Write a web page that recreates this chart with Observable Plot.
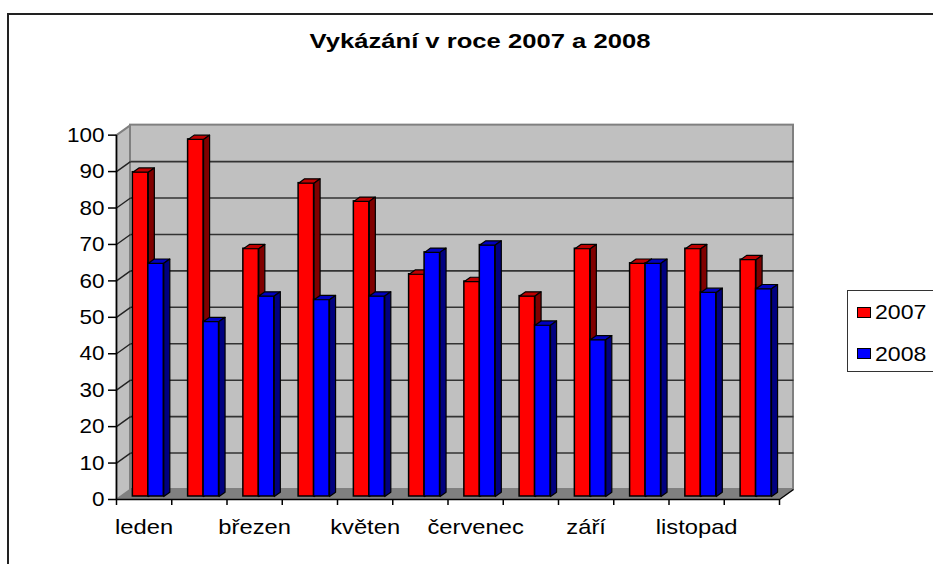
<!DOCTYPE html>
<html>
<head>
<meta charset="utf-8">
<script src="https://cdn.jsdelivr.net/npm/d3@7"></script>
<script src="https://cdn.jsdelivr.net/npm/@observablehq/plot@0.6"></script>
<style>
  html, body { margin: 0; padding: 0; background: #fff; overflow: hidden; }
  #wrap { position: relative; width: 933px; height: 564px; overflow: hidden; font-family: "Liberation Sans", Arial, sans-serif; }
  #frame { position: absolute; left: 7px; top: 13px; width: 1000px; height: 700px; border: 2px solid #222; box-sizing: border-box; }
  #title { position: absolute; left: 280px; top: 29px; width: 400px; text-align: center; font-weight: bold; font-size: 21px; line-height: 24px; color: #000; transform: scaleX(1.22); transform-origin: 50% 50%; }
  #chart { position: absolute; left: 0; top: 0; }
  #legend { position: absolute; left: 847px; top: 290px; width: 120px; height: 82px; border: 1.5px solid #333; box-sizing: border-box; background: #fff; }
  .sw { position: absolute; width: 12px; height: 9px; border: 1px solid #000; }
  .lt { position: absolute; font-size: 21px; line-height: 24px; color: #000; transform: scaleX(1.1); transform-origin: 0 50%; white-space: nowrap; }
</style>
</head>
<body>
<div id="wrap">
  <div id="frame"></div>
  <div id="chart"></div>
  <div id="title"></div>
  <div id="legend"></div>
</div>
<script>
// ---- data ----
const titleText = "Vykázání v roce 2007 a 2008";
const months = ["leden","únor","březen","duben","květen","červen","červenec","srpen","září","říjen","listopad","prosinec"];
const series = ["2007","2008"];
const v2007 = [89, 98, 68, 86, 81, 61, 59, 55, 68, 64, 68, 65];
const v2008 = [64, 48, 55, 54, 55, 67, 69, 47, 43, 64, 56, 57];
const yTicks = [0, 10, 20, 30, 40, 50, 60, 70, 80, 90, 100];
const shownLabels = ["leden","březen","květen","červenec","září","listopad"];

// ---- style / geometry (pseudo-3D) ----
const frontColors = ["#ff0000", "#0000ff"];
const topColors = ["#c00000", "#0000c0"];
const sideColors = ["#800000", "#000080"];
const DX = 0.2534, DY = 2.744;     // depth of the chart box in data units
const barStart = 0.30, barDepth = 0.43; // fractions of depth
const barOffset = 0.22, barWidth = 0.28; // in category units
const N = months.length;

const values = [v2007, v2008];
const bars = [];
months.forEach((m, i) => {
  values.forEach((vals, s) => {
    const v = vals[i];
    const x1 = i + barOffset + s * barWidth + barStart * DX;
    const x2 = x1 + barWidth;
    const y0 = barStart * DY;
    const y1 = v + barStart * DY;
    bars.push({i, s, v, x1, x2, y0, y1});
  });
});
const ddx = barDepth * DX, ddy = barDepth * DY;
function poly(pts, id, s) { return pts.map(([x, y]) => ({x, y, id, s})); }
const tops = bars.flatMap((b, k) => poly([[b.x1,b.y1],[b.x2,b.y1],[b.x2+ddx,b.y1+ddy],[b.x1+ddx,b.y1+ddy],[b.x1,b.y1]], "t"+k, b.s));
const sides = bars.flatMap((b, k) => poly([[b.x2,b.y0],[b.x2+ddx,b.y0+ddy],[b.x2+ddx,b.y1+ddy],[b.x2,b.y1],[b.x2,b.y0]], "s"+k, b.s));

const floor = poly([[0,0],[N,0],[N+DX,DY],[DX,DY],[0,0]], "floor", 0);
const leftWall = poly([[0,0],[DX,DY],[DX,100+DY],[0,100],[0,0]], "lw", 0);
const backWall = [{x1: DX, x2: N + DX, y1: DY, y2: 100 + DY}];
const inner = yTicks.filter(t => t > 0 && t < 100);

function faceMarks(s) {
  return [
    Plot.rect(bars.filter(b => b.s === s), {x1: "x1", x2: "x2", y1: "y0", y2: "y1", fill: frontColors[s], stroke: "#000", strokeWidth: 1.5}),
    Plot.line(tops.filter(p => p.s === s), {x: "x", y: "y", z: "id", fill: topColors[s], stroke: "#000", strokeWidth: 1.2}),
    Plot.line(sides.filter(p => p.s === s), {x: "x", y: "y", z: "id", fill: sideColors[s], stroke: "#000", strokeWidth: 1.2})
  ];
}

const chart = Plot.plot({
  width: 933,
  height: 564,
  marginLeft: 116,
  marginRight: 141,
  marginTop: 124,
  marginBottom: 65,
  x: {type: "linear", domain: [0, N], range: [116, 779], axis: null},
  y: {type: "linear", domain: [0, 100], range: [499, 134.64], axis: null},
  style: {background: "transparent", fontFamily: "'Liberation Sans', Arial, sans-serif", color: "#000", overflow: "visible"},
  marks: [
    // walls
    Plot.line(floor, {x: "x", y: "y", z: "id", fill: "#808080", stroke: "none"}),
    Plot.line(leftWall, {x: "x", y: "y", z: "id", fill: "#c0c0c0", stroke: "#808080", strokeWidth: 2}),
    Plot.rect(backWall, {x1: "x1", x2: "x2", y1: "y1", y2: "y2", fill: "#c0c0c0", stroke: "#808080", strokeWidth: 2}),
    // gridlines
    Plot.link(inner, {x1: () => DX, x2: () => N + DX, y1: t => t + DY, y2: t => t + DY, stroke: "#333", strokeWidth: 1.6}),
    Plot.link(inner, {x1: () => 0, x2: () => DX, y1: t => t, y2: t => t + DY, stroke: "#222", strokeWidth: 1.4}),
    Plot.link([0], {x1: () => N, x2: () => N + DX, y1: () => 0, y2: () => DY, stroke: "#000", strokeWidth: 1.4}),
    // axes lines
    Plot.ruleY([0], {x1: 0, x2: N, stroke: "#000", strokeWidth: 1.5}),
    Plot.ruleX([0], {y1: 0, y2: 100, stroke: "#000", strokeWidth: 1.5}),
    Plot.axisY({ticks: yTicks, tickSize: 8, tickPadding: 4, fontSize: 21, strokeWidth: 1.5, tickFormat: d => String(d)}),
    Plot.axisX({ticks: d3.range(0, N + 1), tickSize: 6, tickFormat: () => "", strokeWidth: 1.5}),
    Plot.text(months.map((m, i) => ({m, i})).filter(d => shownLabels.includes(d.m)), {x: d => d.i + 0.5, y: () => 0, text: "m", dy: 28, fontSize: 21, lineAnchor: "middle", fill: "#000", className: "xlab"}),
    // bars
    ...faceMarks(0),
    ...faceMarks(1)
  ]
});
document.getElementById("chart").appendChild(chart);

// horizontally widen text glyphs as in the reference rendering
function stretch(el, f) {
  const L = el.getComputedTextLength();
  if (L > 0) {
    el.setAttribute("textLength", (L * f).toFixed(2));
    el.setAttribute("lengthAdjust", "spacingAndGlyphs");
  }
}
chart.querySelectorAll("g[aria-label='y-axis tick label'] text").forEach(el => stretch(el, 1.07));
chart.querySelectorAll(".xlab text, g.xlab text").forEach(el => stretch(el, 1.13));

document.getElementById("title").textContent = titleText;

const legend = document.getElementById("legend");
const lgTop = [307, 348];
const txtTop = [300, 342];
series.forEach((name, s) => {
  const sw = document.createElement("div");
  sw.className = "sw";
  sw.style.left = (857 - 847 - 1.5) + "px";
  sw.style.top = (lgTop[s] - 290 - 1.5) + "px";
  sw.style.background = frontColors[s];
  legend.appendChild(sw);
  const t = document.createElement("div");
  t.className = "lt";
  t.style.left = (875 - 847 - 1.5) + "px";
  t.style.top = (txtTop[s] - 290 - 1.5) + "px";
  t.textContent = name;
  legend.appendChild(t);
});
</script>
</body>
</html>
